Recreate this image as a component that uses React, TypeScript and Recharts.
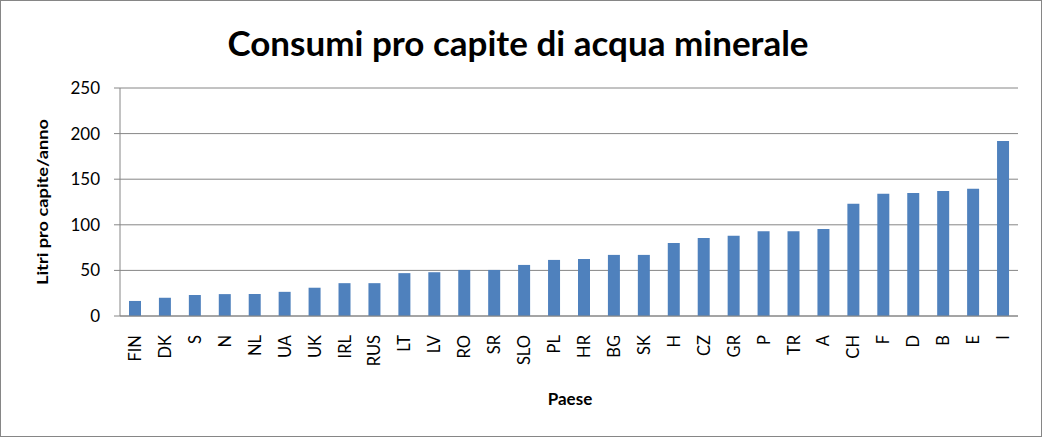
import React from 'react';
import { BarChart, Bar, XAxis, YAxis, CartesianGrid, Label } from 'recharts';

const COUNTRIES = [
  'FIN', 'DK', 'S', 'N', 'NL', 'UA', 'UK', 'IRL', 'RUS', 'LT',
  'LV', 'RO', 'SR', 'SLO', 'PL', 'HR', 'BG', 'SK', 'H', 'CZ',
  'GR', 'P', 'TR', 'A', 'CH', 'F', 'D', 'B', 'E', 'I',
];

const LITRES = [
  16.5, 20, 23, 24, 24, 26.5, 31, 36, 36, 47,
  48, 50.5, 50.5, 56, 61.5, 62.5, 67, 67, 80, 85.5,
  88, 93, 93, 95.5, 123, 134, 135, 137, 139.5, 192,
];

const Y_TICKS = [0, 50, 100, 150, 200, 250];

const FONT = 'Lato, "Open Sans", sans-serif';
const GRAY = '#868686';

const data = COUNTRIES.map((name, i) => ({ name, value: LITRES[i] }));

const XTick = ({ x, y, payload }: any) => (
  <text
    x={x}
    y={y}
    transform={`rotate(-90, ${x}, ${y})`}
    textAnchor="end"
    dominantBaseline="central"
    fontSize={16.5}
    fontFamily={FONT}
    fill="#000"
    dx={-11}
  >
    {payload.value}
  </text>
);

const App: React.FC = () => {
  return (
    <div style={{ position: 'relative', width: 1042, height: 437 }}>
      <style>{'body { margin: 0; }'}</style>
      <div
        style={{
          position: 'absolute',
          inset: 0,
          border: `1px solid ${GRAY}`,
          boxSizing: 'border-box',
          pointerEvents: 'none',
        }}
      />
      <div
        style={{
          position: 'absolute',
          top: 21,
          left: 0,
          width: 1036,
          textAlign: 'center',
          fontFamily: FONT,
          fontWeight: 'bold',
          fontSize: 35,
        }}
      >
        Consumi pro capite di acqua minerale
      </div>
      <BarChart
        width={1042}
        height={437}
        data={data}
        margin={{ top: 88, right: 24, bottom: 0, left: 0 }}
        barCategoryGap="30%"
      >
        <CartesianGrid vertical={false} stroke={GRAY} strokeWidth={1} />
        <XAxis
          dataKey="name"
          interval={0}
          height={121}
          stroke={GRAY}
          tickLine={false}
          tick={<XTick />}
        >
          <Label
            content={({ viewBox }: any) => (
              <text
                x={viewBox.x + viewBox.width / 2 + 1}
                y={405}
                textAnchor="middle"
                fontSize={17}
                fontWeight="bold"
                fontFamily={FONT}
                fill="#000"
              >
                Paese
              </text>
            )}
          />
        </XAxis>
        <YAxis
          width={120}
          domain={[0, 250]}
          ticks={Y_TICKS}
          stroke={GRAY}
          tickSize={6}
          tickMargin={14}
          tick={{ fontSize: 17, fontFamily: FONT, fill: '#000' }}
        >
          <Label
            content={({ viewBox }: any) => {
              const cx = 48;
              const cy = viewBox.y + viewBox.height / 2;
              return (
                <text
                  x={cx}
                  y={cy}
                  transform={`rotate(-90, ${cx}, ${cy})`}
                  textAnchor="middle"
                  fontSize={16}
                  fontWeight="bold"
                  fontFamily={FONT}
                  fill="#000"
                  textLength={166}
                  lengthAdjust="spacingAndGlyphs"
                >
                  Litri pro capite/anno
                </text>
              );
            }}
          />
        </YAxis>
        <Bar dataKey="value" fill="#4F81BD" isAnimationActive={false} />
      </BarChart>
    </div>
  );
};

export default App;
